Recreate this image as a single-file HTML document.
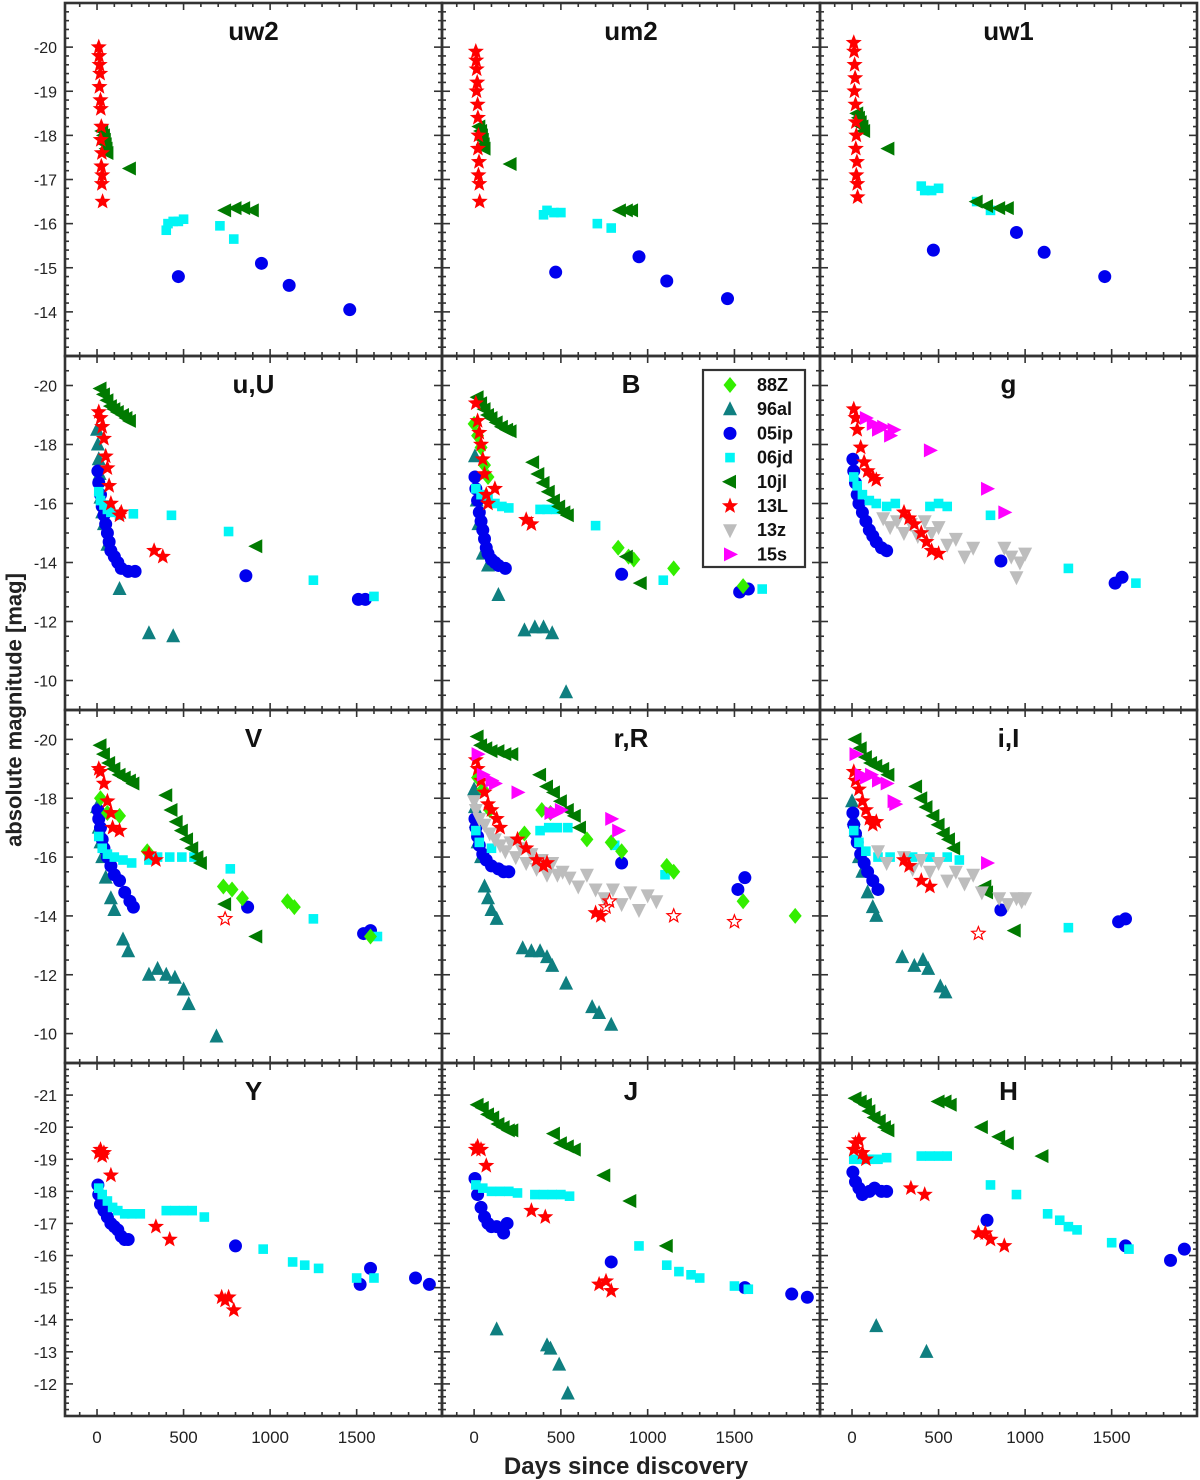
<!DOCTYPE html>
<html><head><meta charset="utf-8"><style>
html,body{margin:0;padding:0;background:#fff;}
svg{display:block;font-family:"Liberation Sans",Arial,sans-serif;}
</style></head><body>
<svg id="chart" width="1200" height="1480" viewBox="0 0 1200 1480" xmlns="http://www.w3.org/2000/svg">
<g id="marks"></g>
<g id="frames"></g>
<text x="14" y="710" transform="rotate(-90 14 710)" text-anchor="middle" dominant-baseline="central" font-size="22" font-weight="bold" fill="#222">absolute magnitude [mag]</text>
<text x="626" y="1474" text-anchor="middle" font-size="24" font-weight="bold" fill="#222">Days since discovery</text>
<g id="legend"></g>
</svg>
<script>
// ---- data (day, absolute magnitude) ----
const uw2_13L=[[10,-20],[12,-19.8],[15,-19.6],[18,-19.4],[14,-19.1],[20,-18.8],[22,-18.6],[25,-18.2],[22,-17.9],[28,-17.6],[25,-17.3],[30,-17.1],[28,-16.9],[32,-16.5]];
const uw2_10jl=[[30,-18.1],[40,-18.0],[45,-17.9],[50,-17.8],[55,-17.7],[60,-17.6],[190,-17.25],[740,-16.3],[800,-16.35],[850,-16.35],[900,-16.3]];
const uw2_06jd=[[400,-15.85],[410,-16.0],[440,-16.05],[470,-16.05],[500,-16.1],[710,-15.95],[790,-15.65]];
const uw2_05ip=[[470,-14.8],[950,-15.1],[1110,-14.6],[1460,-14.05]];
const um2_13L=[[10,-19.9],[12,-19.7],[15,-19.5],[18,-19.2],[14,-19.0],[20,-18.7],[22,-18.4],[25,-18.0],[22,-17.7],[28,-17.4],[25,-17.1],[30,-16.9],[32,-16.5]];
const um2_10jl=[[30,-18.2],[40,-18.1],[45,-18.0],[50,-17.9],[55,-17.8],[60,-17.7],[210,-17.35],[840,-16.3],[880,-16.3],[910,-16.3]];
const um2_06jd=[[400,-16.2],[420,-16.3],[460,-16.25],[500,-16.25],[710,-16.0],[790,-15.9]];
const um2_05ip=[[470,-14.9],[950,-15.25],[1110,-14.7],[1460,-14.3]];
const uw1_13L=[[10,-20.1],[12,-19.9],[15,-19.6],[18,-19.3],[14,-19.0],[20,-18.7],[22,-18.3],[25,-18.0],[22,-17.7],[28,-17.4],[25,-17.1],[30,-16.9],[32,-16.6]];
const uw1_10jl=[[30,-18.5],[40,-18.4],[50,-18.3],[60,-18.2],[70,-18.1],[210,-17.7],[720,-16.5],[780,-16.4],[850,-16.35],[900,-16.35]];
const uw1_06jd=[[400,-16.85],[420,-16.75],[460,-16.75],[500,-16.8],[720,-16.5],[800,-16.3]];
const uw1_05ip=[[470,-15.4],[950,-15.8],[1110,-15.35],[1460,-14.8]];

const U_10jl=[[20,-19.9],[40,-19.7],[60,-19.5],[80,-19.3],[100,-19.2],[120,-19.1],[150,-19.0],[170,-18.9],[190,-18.8],[920,-14.55]];
const U_13L=[[10,-19.1],[20,-18.9],[30,-18.6],[40,-18.2],[50,-17.6],[60,-17.2],[70,-16.6],[80,-16.0],[130,-15.6],[140,-15.7],[330,-14.4],[380,-14.2]];
const U_96al=[[0,-18.5],[5,-18.0],[10,-17.5],[15,-17.0],[20,-16.2],[30,-15.7],[40,-15.3],[60,-14.6],[130,-13.1],[300,-11.6],[440,-11.5]];
const U_05ip=[[5,-17.1],[10,-16.7],[20,-16.3],[30,-15.9],[40,-15.6],[50,-15.3],[60,-15.0],[70,-14.7],[80,-14.4],[100,-14.2],[120,-14.0],[140,-13.8],[180,-13.7],[220,-13.7],[860,-13.55],[1510,-12.75],[1550,-12.75]];
const U_06jd=[[10,-16.4],[20,-16.1],[40,-15.95],[60,-15.8],[80,-15.7],[130,-15.6],[210,-15.65],[430,-15.6],[760,-15.05],[1250,-13.4],[1600,-12.85]];

const B_10jl=[[20,-19.6],[40,-19.4],[60,-19.2],[80,-19.0],[100,-18.9],[130,-18.75],[160,-18.6],[190,-18.5],[210,-18.45],[340,-17.4],[370,-17.0],[400,-16.7],[430,-16.4],[460,-16.1],[490,-15.9],[520,-15.7],[540,-15.6],[880,-14.2],[960,-13.3]];
const B_88Z=[[0,-18.7],[20,-18.3],[40,-17.9],[60,-17.3],[80,-16.9],[830,-14.5],[890,-14.2],[920,-14.1],[1150,-13.8],[1550,-13.2]];
const B_96al=[[5,-17.6],[15,-16.1],[25,-15.3],[50,-14.3],[80,-13.9],[140,-12.9],[290,-11.7],[350,-11.8],[400,-11.8],[450,-11.6],[530,-9.6]];
const B_05ip=[[5,-16.9],[10,-16.5],[20,-16.1],[30,-15.7],[40,-15.4],[50,-15.1],[60,-14.8],[70,-14.5],[80,-14.3],[100,-14.1],[120,-14.0],[140,-13.9],[180,-13.8],[850,-13.6],[1530,-13.0],[1580,-13.1]];
const B_06jd=[[10,-16.5],[40,-16.3],[80,-16.2],[120,-16.0],[160,-15.9],[200,-15.85],[380,-15.8],[420,-15.8],[470,-15.8],[700,-15.25],[1090,-13.4],[1660,-13.1]];
const B_13L=[[10,-19.4],[20,-18.8],[30,-18.4],[40,-18.0],[50,-17.5],[60,-17.0],[70,-16.3],[80,-16.0],[120,-16.5],[300,-15.45],[330,-15.3]];

const g_13L=[[10,-19.2],[20,-18.9],[30,-18.5],[50,-17.9],[70,-17.4],[90,-17.1],[120,-16.9],[140,-16.8],[300,-15.7],[330,-15.5],[360,-15.3],[400,-15.0],[430,-14.7],[460,-14.4],[500,-14.3]];
const g_15s=[[80,-18.9],[120,-18.7],[150,-18.5],[180,-18.6],[220,-18.3],[240,-18.5],[450,-17.8],[780,-16.5],[880,-15.7]];
const g_05ip=[[5,-17.5],[10,-17.1],[20,-16.7],[30,-16.3],[40,-16.0],[60,-15.7],[80,-15.4],[100,-15.1],[120,-14.9],[140,-14.7],[170,-14.5],[200,-14.4],[860,-14.05],[1520,-13.3],[1560,-13.5]];
const g_06jd=[[10,-16.9],[30,-16.6],[60,-16.3],[100,-16.1],[140,-16.0],[200,-15.9],[250,-16.0],[450,-15.9],[500,-16.0],[550,-15.9],[800,-15.6],[1250,-13.8],[1640,-13.3]];
const g_13z=[[180,-15.5],[220,-15.2],[260,-15.4],[300,-15.0],[340,-15.3],[380,-14.9],[420,-15.4],[460,-15.0],[500,-15.2],[550,-14.6],[600,-14.8],[650,-14.2],[700,-14.5],[880,-14.5],[920,-14.2],[950,-13.5],[970,-14.0],[1000,-14.3]];

const V_10jl=[[20,-19.8],[40,-19.5],[70,-19.2],[100,-19.0],[130,-18.8],[160,-18.7],[190,-18.6],[210,-18.5],[400,-18.1],[430,-17.6],[460,-17.2],[490,-16.9],[520,-16.6],[550,-16.3],[580,-16.0],[600,-15.8],[740,-14.4],[920,-13.3]];
const V_88Z=[[20,-18.0],[60,-17.5],[130,-17.4],[290,-16.2],[730,-15.0],[780,-14.9],[840,-14.6],[1100,-14.5],[1140,-14.3],[1580,-13.3]];
const V_96al=[[0,-17.7],[10,-17.0],[20,-16.5],[30,-16.0],[50,-15.3],[80,-14.6],[100,-14.2],[150,-13.2],[180,-12.8],[300,-12.0],[350,-12.2],[400,-12.0],[450,-11.9],[500,-11.5],[530,-11.0],[690,-9.9]];
const V_05ip=[[5,-17.6],[10,-17.3],[20,-17.0],[30,-16.6],[40,-16.3],[60,-16.0],[80,-15.7],[100,-15.4],[130,-15.2],[160,-14.8],[190,-14.5],[210,-14.3],[870,-14.3],[1540,-13.4],[1580,-13.5]];
const V_06jd=[[10,-16.7],[30,-16.3],[60,-16.1],[100,-16.0],[150,-15.9],[200,-15.8],[300,-15.9],[350,-16.0],[420,-16.0],[490,-16.0],[560,-16.0],[770,-15.6],[1250,-13.9],[1620,-13.3]];
const V_13L=[[10,-19.0],[20,-18.9],[40,-18.5],[60,-17.9],[80,-17.5],[90,-17.0],[130,-16.9],[300,-16.1],[340,-15.9]];
const V_13Lo=[[740,-13.9]];

const R_10jl=[[20,-20.1],[40,-19.8],[70,-19.7],[100,-19.6],[140,-19.6],[180,-19.5],[220,-19.5],[380,-18.8],[420,-18.4],[460,-18.2],[500,-17.9],[540,-17.6],[580,-17.4],[610,-17.0]];
const R_15s=[[20,-19.5],[50,-18.8],[100,-18.6],[120,-18.5],[250,-18.2],[440,-17.5],[470,-17.5],[500,-17.6],[790,-17.3],[830,-16.9]];
const R_88Z=[[20,-18.7],[50,-18.3],[90,-17.6],[290,-16.8],[390,-17.6],[440,-17.5],[650,-16.6],[790,-16.5],[850,-16.2],[1110,-15.7],[1150,-15.5],[1550,-14.5],[1850,-14.0]];
const R_96al=[[0,-18.3],[5,-17.7],[10,-17.2],[20,-16.5],[40,-16.0],[60,-15.0],[80,-14.6],[100,-14.2],[130,-13.9],[280,-12.9],[330,-12.8],[380,-12.8],[420,-12.6],[450,-12.3],[530,-11.7],[680,-10.9],[720,-10.7],[790,-10.3]];
const R_05ip=[[5,-17.3],[10,-17.0],[20,-16.7],[30,-16.4],[50,-16.1],[70,-15.9],[100,-15.7],[140,-15.6],[170,-15.5],[200,-15.5],[850,-15.8],[1520,-14.9],[1560,-15.3]];
const R_06jd=[[10,-16.9],[30,-16.5],[100,-16.3],[380,-16.9],[430,-17.0],[480,-17.0],[540,-17.0],[810,-16.4],[1100,-15.4]];
const R_13z=[[0,-17.9],[10,-17.6],[30,-17.3],[60,-17.1],[90,-16.8],[120,-16.6],[150,-16.4],[180,-16.2],[210,-16.5],[240,-16.0],[270,-16.3],[300,-15.8],[330,-16.1],[360,-15.6],[390,-15.9],[420,-15.4],[450,-15.8],[480,-15.4],[510,-15.5],[550,-15.3],[600,-15.0],[650,-15.4],[700,-14.9],[750,-14.6],[800,-14.9],[850,-14.4],[900,-14.8],[950,-14.2],[1000,-14.7],[1050,-14.5]];
const R_13L=[[10,-19.3],[20,-19.0],[40,-18.6],[60,-18.2],[80,-17.8],[100,-17.6],[130,-17.3],[150,-17.0],[250,-16.6],[300,-16.3],[360,-15.9],[400,-15.7],[420,-15.8],[700,-14.1],[730,-14.0]];
const R_13Lo=[[760,-14.3],[780,-14.5],[1150,-14.0],[1500,-13.8]];

const I_10jl=[[20,-20.0],[50,-19.7],[80,-19.4],[110,-19.2],[140,-19.1],[180,-19.0],[210,-18.8],[370,-18.4],[400,-18.0],[430,-17.7],[470,-17.4],[500,-17.1],[530,-16.8],[560,-16.6],[590,-16.3],[770,-15.0],[780,-14.8],[940,-13.5]];
const I_15s=[[20,-19.5],[50,-18.8],[80,-18.7],[110,-18.8],[150,-18.6],[200,-18.5],[240,-17.9],[250,-17.8],[780,-15.8]];
const I_96al=[[0,-17.9],[10,-17.3],[20,-16.9],[40,-16.0],[60,-15.5],[90,-14.8],[120,-14.3],[140,-14.0],[290,-12.6],[360,-12.3],[410,-12.5],[440,-12.2],[510,-11.6],[540,-11.4]];
const I_05ip=[[5,-17.5],[10,-17.1],[20,-16.8],[30,-16.5],[50,-16.1],[70,-15.8],[90,-15.5],[120,-15.2],[150,-14.9],[860,-14.2],[1540,-13.8],[1580,-13.9]];
const I_06jd=[[10,-16.9],[40,-16.5],[80,-16.2],[150,-16.0],[220,-16.0],[350,-16.0],[450,-16.0],[550,-16.0],[620,-15.9],[1250,-13.6]];
const I_13z=[[150,-16.2],[200,-15.8],[300,-16.0],[350,-15.6],[400,-15.9],[450,-15.5],[500,-15.8],[550,-15.2],[600,-15.5],[650,-15.1],[700,-15.4],[750,-14.8],[850,-14.6],[900,-14.4],[950,-14.6],[980,-14.5],[1000,-14.6]];
const I_13L=[[10,-18.9],[20,-18.6],[40,-18.3],[60,-17.9],[80,-17.6],[100,-17.3],[120,-17.1],[140,-17.2],[300,-15.9],[330,-15.7],[400,-15.2],[450,-15.0]];
const I_13Lo=[[730,-13.4]];

const Y_13L=[[10,-19.2],[20,-19.3],[30,-19.1],[40,-19.2],[80,-18.5],[340,-16.9],[420,-16.5],[720,-14.7],[740,-14.6],[760,-14.7],[790,-14.3]];
const Y_05ip=[[5,-18.2],[10,-17.9],[20,-17.6],[40,-17.4],[60,-17.2],[80,-17.0],[100,-16.9],[120,-16.8],[140,-16.6],[160,-16.5],[180,-16.5],[800,-16.3],[1520,-15.1],[1580,-15.6],[1840,-15.3],[1920,-15.1]];
const Y_06jd=[[10,-18.1],[30,-17.9],[60,-17.7],[90,-17.5],[120,-17.4],[160,-17.3],[200,-17.3],[250,-17.3],[400,-17.4],[450,-17.4],[500,-17.4],[550,-17.4],[620,-17.2],[960,-16.2],[1130,-15.8],[1200,-15.7],[1280,-15.6],[1500,-15.3],[1600,-15.3]];

const J_10jl=[[20,-20.7],[50,-20.6],[80,-20.4],[110,-20.3],[140,-20.1],[170,-20.0],[200,-19.9],[220,-19.9],[460,-19.8],[500,-19.5],[540,-19.4],[580,-19.3],[750,-18.5],[900,-17.7],[1110,-16.3]];
const J_13L=[[10,-19.3],[20,-19.4],[40,-19.3],[70,-18.8],[330,-17.4],[410,-17.2],[720,-15.1],[760,-15.2],[790,-14.9]];
const J_05ip=[[5,-18.4],[20,-17.9],[40,-17.5],[60,-17.2],[80,-17.0],[100,-16.9],[130,-16.9],[170,-16.7],[190,-17.0],[790,-15.8],[1560,-15.0],[1830,-14.8],[1920,-14.7]];
const J_06jd=[[10,-18.2],[50,-18.1],[100,-18.0],[150,-18.0],[200,-18.0],[250,-17.95],[350,-17.9],[400,-17.9],[450,-17.9],[500,-17.9],[550,-17.85],[950,-16.3],[1110,-15.7],[1180,-15.5],[1250,-15.4],[1300,-15.3],[1500,-15.05],[1580,-14.95]];
const J_96al=[[130,-13.7],[420,-13.2],[440,-13.1],[490,-12.6],[540,-11.7]];

const H_10jl=[[20,-20.9],[50,-20.8],[80,-20.7],[100,-20.5],[130,-20.3],[160,-20.2],[190,-20.0],[210,-19.9],[500,-20.8],[540,-20.8],[570,-20.7],[750,-20.0],[850,-19.7],[900,-19.5],[1100,-19.1]];
const H_13L=[[10,-19.3],[20,-19.5],[40,-19.6],[60,-19.2],[80,-19.0],[340,-18.1],[420,-17.9],[730,-16.7],[770,-16.7],[800,-16.5],[880,-16.3]];
const H_05ip=[[5,-18.6],[20,-18.3],[40,-18.1],[60,-17.9],[100,-18.0],[130,-18.1],[170,-18.0],[200,-18.0],[780,-17.1],[1580,-16.3],[1840,-15.85],[1920,-16.2]];
const H_06jd=[[10,-19.0],[50,-19.0],[100,-19.0],[150,-19.0],[200,-19.05],[400,-19.1],[450,-19.1],[500,-19.1],[550,-19.1],[800,-18.2],[950,-17.9],[1130,-17.3],[1200,-17.1],[1250,-16.9],[1300,-16.8],[1500,-16.4],[1600,-16.2]];
const H_96al=[[140,-13.8],[430,-13.0]];

const bandTitles=["uw2","um2","uw1","u,U","B","g","V","r,R","i,I","Y","J","H"];
const xTicks=[0,500,1000,1500];
const legendNames=["88Z","96al","05ip","06jd","10jl","13L","13z","15s"];

// ---- layout ----
const NS="http://www.w3.org/2000/svg";
const colL=[65,442,820], colW=[377,378,377];
const rowT=[3,356,710,1063], rowH=[353,354,353,353];
const yDom=[[-21,-13],[-21,-9],[-21,-9],[-22,-11]];
const yLab=[[-20,-19,-18,-17,-16,-15,-14],[-20,-18,-16,-14,-12,-10],[-20,-18,-16,-14,-12,-10],[-21,-20,-19,-18,-17,-16,-15,-14,-13,-12]];
const yMinor=[0.2,0.5,0.5,0.2];
const xDom=[-185,1993];
const style={
 "88Z":{shape:"diamond",color:"#33ee00"},
 "96al":{shape:"up",color:"#0f7f80"},
 "05ip":{shape:"circle",color:"#0000ee"},
 "06jd":{shape:"square",color:"#00f5f5"},
 "10jl":{shape:"left",color:"#007a00"},
 "13L":{shape:"star",color:"#ff0000"},
 "13Lo":{shape:"starOpen",color:"#ff0000"},
 "13z":{shape:"down",color:"#bdbdbd"},
 "15s":{shape:"right",color:"#ff00ff"}
};
const panels=[
 {s:{"05ip":uw2_05ip,"06jd":uw2_06jd,"10jl":uw2_10jl,"13L":uw2_13L}},
 {s:{"05ip":um2_05ip,"06jd":um2_06jd,"10jl":um2_10jl,"13L":um2_13L}},
 {s:{"05ip":uw1_05ip,"06jd":uw1_06jd,"10jl":uw1_10jl,"13L":uw1_13L}},
 {s:{"96al":U_96al,"05ip":U_05ip,"06jd":U_06jd,"10jl":U_10jl,"13L":U_13L}},
 {s:{"96al":B_96al,"05ip":B_05ip,"06jd":B_06jd,"88Z":B_88Z,"10jl":B_10jl,"13L":B_13L}},
 {s:{"05ip":g_05ip,"06jd":g_06jd,"13z":g_13z,"13L":g_13L,"15s":g_15s}},
 {s:{"96al":V_96al,"05ip":V_05ip,"06jd":V_06jd,"88Z":V_88Z,"10jl":V_10jl,"13L":V_13L,"13Lo":V_13Lo}},
 {s:{"96al":R_96al,"05ip":R_05ip,"06jd":R_06jd,"10jl":R_10jl,"13z":R_13z,"88Z":R_88Z,"13L":R_13L,"13Lo":R_13Lo,"15s":R_15s}},
 {s:{"96al":I_96al,"05ip":I_05ip,"06jd":I_06jd,"10jl":I_10jl,"13z":I_13z,"13L":I_13L,"13Lo":I_13Lo,"15s":I_15s}},
 {s:{"05ip":Y_05ip,"06jd":Y_06jd,"13L":Y_13L}},
 {s:{"96al":J_96al,"05ip":J_05ip,"06jd":J_06jd,"10jl":J_10jl,"13L":J_13L}},
 {s:{"96al":H_96al,"05ip":H_05ip,"06jd":H_06jd,"10jl":H_10jl,"13L":H_13L}}
];
function mk(tag,attrs,parent){const e=document.createElementNS(NS,tag);for(const k in attrs)e.setAttribute(k,attrs[k]);parent.appendChild(e);return e;}
function xScale(c,d){return colL[c]+(d-xDom[0])/(xDom[1]-xDom[0])*colW[c];}
function yScale(r,m){const[a,b]=yDom[r];return rowT[r]+(m-a)/(b-a)*rowH[r];}
function starPts(cx,cy,R,r){let p=[];for(let i=0;i<10;i++){const a=-Math.PI/2+i*Math.PI/5,rr=i%2?r:R;p.push((cx+rr*Math.cos(a)).toFixed(1)+","+(cy+rr*Math.sin(a)).toFixed(1));}return p.join(" ");}
function marker(shape,color,x,y,parent,sz){
 const k=sz||1;let e;
 if(shape==="circle")e=mk("circle",{cx:x,cy:y,r:6.5*k,fill:color},parent);
 else if(shape==="square")e=mk("rect",{x:x-4.8*k,y:y-4.8*k,width:9.6*k,height:9.6*k,fill:color},parent);
 else if(shape==="diamond")e=mk("polygon",{points:`${x},${y-8*k} ${x+6.5*k},${y} ${x},${y+8*k} ${x-6.5*k},${y}`,fill:color},parent);
 else if(shape==="up")e=mk("polygon",{points:`${x},${y-8*k} ${x+7*k},${y+6*k} ${x-7*k},${y+6*k}`,fill:color},parent);
 else if(shape==="down")e=mk("polygon",{points:`${x},${y+8*k} ${x+7*k},${y-6*k} ${x-7*k},${y-6*k}`,fill:color},parent);
 else if(shape==="left")e=mk("polygon",{points:`${x-8*k},${y} ${x+6*k},${y-7*k} ${x+6*k},${y+7*k}`,fill:color},parent);
 else if(shape==="right")e=mk("polygon",{points:`${x+8*k},${y} ${x-6*k},${y-7*k} ${x-6*k},${y+7*k}`,fill:color},parent);
 else if(shape==="star")e=mk("polygon",{points:starPts(x,y,8.5*k,3.6*k),fill:color},parent);
 else e=mk("polygon",{points:starPts(x,y,7*k,3*k),fill:"none",stroke:color,"stroke-width":1.2},parent);
 return e;
}
const marks=document.getElementById("marks"), frames=document.getElementById("frames");
panels.forEach((p,i)=>{
 const r=Math.floor(i/3),c=i%3;
 const g=mk("g",{},marks);
 
 
 for(const sn in p.s){
  const st=style[sn];
  p.s[sn].forEach(([d,m])=>{
   const e=marker(st.shape,st.color,xScale(c,d),yScale(r,m),g);
   
   
  });
 }
 // frame
 const L=colL[c],T=rowT[r],W=colW[c],H=rowH[r];
 const f=mk("g",{stroke:"#333","stroke-width":1.6},frames);
 
 
 mk("rect",{x:L,y:T,width:W,height:H,fill:"none","stroke-width":2.6},f);
 for(let d=-100;d<=1900;d+=100){
  const x=xScale(c,d),len=(d%500===0)?7:4;
  mk("line",{x1:x,y1:T+H,x2:x,y2:T+H-len},f);
  mk("line",{x1:x,y1:T,x2:x,y2:T+len},f);
 }
 const[a,b]=yDom[r];
 for(let m=a;m<=b+1e-6;m+=yMinor[r]){
  const y=yScale(r,m);const maj=Math.abs(m-Math.round(m))<1e-6&&yLab[r].includes(Math.round(m));
  const len=maj?8:4;
  mk("line",{x1:L,y1:y,x2:L+len,y2:y},f);
  mk("line",{x1:L+W,y1:y,x2:L+W-len,y2:y},f);
 }
 const t=mk("text",{x:L+W/2,y:T+37,"text-anchor":"middle","font-size":26,"font-weight":"bold",fill:"#111"},frames);
 t.textContent=bandTitles[i];
 
 
 if(c===0){yLab[r].forEach(m=>{
  const tl=mk("text",{x:L-8,y:yScale(r,m)+6,"text-anchor":"end","font-size":16,fill:"#222"},frames);
  tl.textContent=String(m).replace("-","-");
  
  
 });}
 if(r===3){xTicks.forEach(d=>{
  const tl=mk("text",{x:xScale(c,d),y:T+H+27,"text-anchor":"middle","font-size":17,fill:"#222"},frames);
  tl.textContent=d;
  
  
 });}
});
// legend
const lg=document.getElementById("legend");
mk("rect",{x:703,y:370,width:102,height:197,fill:"#fff",stroke:"#333","stroke-width":2.2},lg);
const lkeys=["88Z","96al","05ip","06jd","10jl","13L","13z","15s"];
legendNames.forEach((n,j)=>{
 const y=385+j*24.2;
 const e=marker(style[lkeys[j]].shape,style[lkeys[j]].color,730,y,lg);
 
 
 const t=mk("text",{x:757,y:y+6,"font-size":18,"font-weight":"bold",fill:"#111"},lg);
 t.textContent=n;
 
 
});
</script>
</body></html>
